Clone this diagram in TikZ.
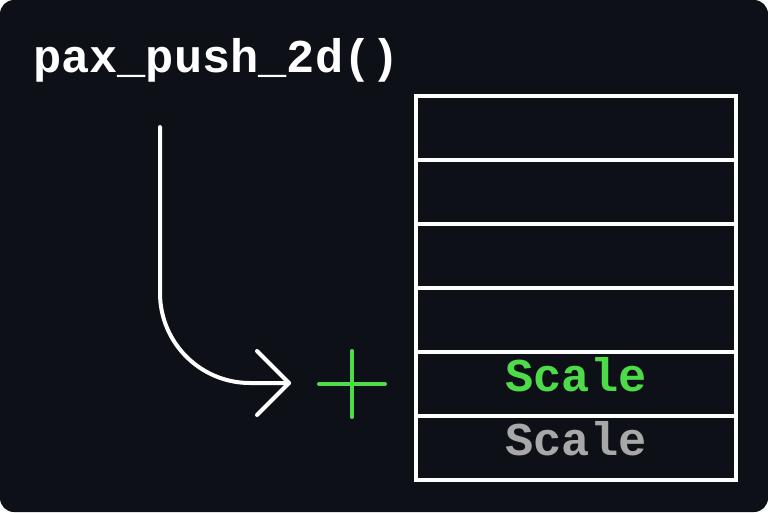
\documentclass[tikz,border=0pt]{standalone}
\usepackage{fontspec}
\setmonofont{Liberation Mono}
\definecolor{bgdark}{HTML}{0D1017}
\definecolor{pgreen}{HTML}{4EDB4A}
\definecolor{pgray}{HTML}{A8A8A8}
\begin{document}
\begin{tikzpicture}[x=1pt,y=-1pt,
  line width=4pt,
  row/.style={draw=white,line width=3.5pt,fill=bgdark},
  lbl/.style={font=\fontsize{47}{50}\selectfont\ttfamily\bfseries,inner sep=0pt,anchor=base},
  conn/.style={draw=white,line cap=round,line join=round,line width=4pt}]
\useasboundingbox (0,0) rectangle (768,512);
\fill[white] (0,0) rectangle (768,512);
\fill[bgdark,rounded corners=14pt] (0,0) rectangle (768,512);
% title
\node[lbl,text=white,anchor=base west] (title) at (31,72) {pax\_push\_2d()};
% stack rows
\foreach \i/\y in {1/96,2/160,3/224,4/288,5/352,6/416}{
  \path[row] (416,\y) rectangle (736,\y+64);
  \coordinate (r\i) at (576,\y+39);
}
\node[lbl,text=pgreen] (s1) at (r5) {Scale};
\node[lbl,text=pgray] (s2) at (r6) {Scale};
% arrow
\coordinate (start) at (160,127);
\coordinate (tip) at (289,383);
\draw[conn,rounded corners=90pt] (start) |- (tip);
\draw[conn] (tip) ++(-32,-32) -- (tip) -- ++(-32,32);
% plus
\coordinate (plus) at (352,384);
\draw[pgreen,line width=4pt,line cap=round] (plus) ++(-33,0) -- ++(66,0);
\draw[pgreen,line width=4pt,line cap=round] (plus) ++(0,-33) -- ++(0,66);
\end{tikzpicture}
\end{document}
